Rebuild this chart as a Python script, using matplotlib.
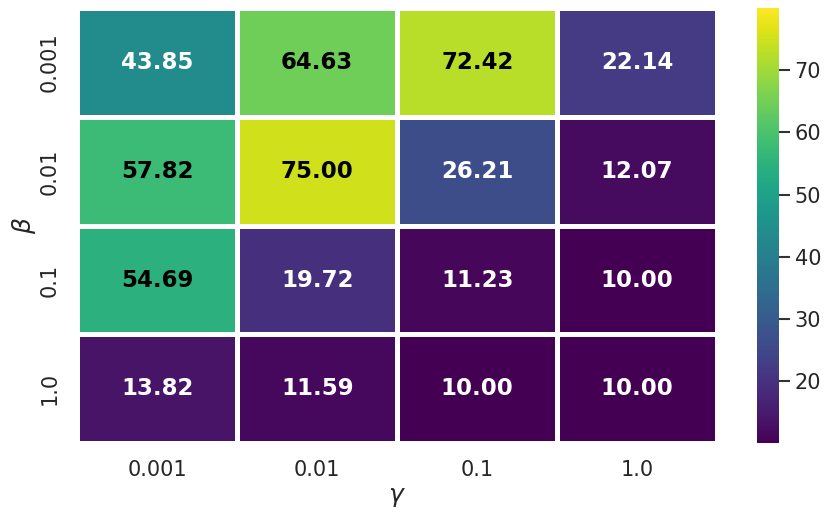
import matplotlib
matplotlib.use("Agg")
import matplotlib.pyplot as plt
import numpy as np
import seaborn as sns

sns.set_theme(style="white", context="talk")

betas = ["0.001", "0.01", "0.1", "1.0"]
gammas = ["0.001", "0.01", "0.1", "1.0"]
scores = np.array([
    [43.85, 64.63, 72.42, 22.14],
    [57.82, 75.00, 26.21, 12.07],
    [54.69, 19.72, 11.23, 10.00],
    [13.82, 11.59, 10.00, 10.00],
])

fig = plt.figure(figsize=(8.31, 5.19), dpi=100)
ax = fig.add_axes([0.093, 0.146, 0.770, 0.838])
cax = fig.add_axes([0.911, 0.146, 0.026, 0.838])

sns.heatmap(scores, ax=ax, cbar_ax=cax, cmap="viridis", vmin=10.01, vmax=79.95,
            annot=True, fmt=".2f", linewidths=2.5, linecolor="white",
            annot_kws={"fontsize": 16.5, "fontweight": "bold"},
            xticklabels=gammas, yticklabels=betas)

# black text on the bright cells, white on the dark ones
for txt in ax.texts:
    txt.set_color("black" if float(txt.get_text()) > 50 else "white")

ax.set_xlabel(r"$\gamma$", fontsize=18)
ax.set_ylabel(r"$\beta$", fontsize=18, labelpad=1)
ax.tick_params(length=0, labelsize=15)
ax.tick_params(axis="x", pad=12)
ax.tick_params(axis="y", pad=13)
cax.tick_params(length=8, width=1.5, color="#333333", labelsize=15, right=True)

plt.savefig("out.png", dpi=100)
